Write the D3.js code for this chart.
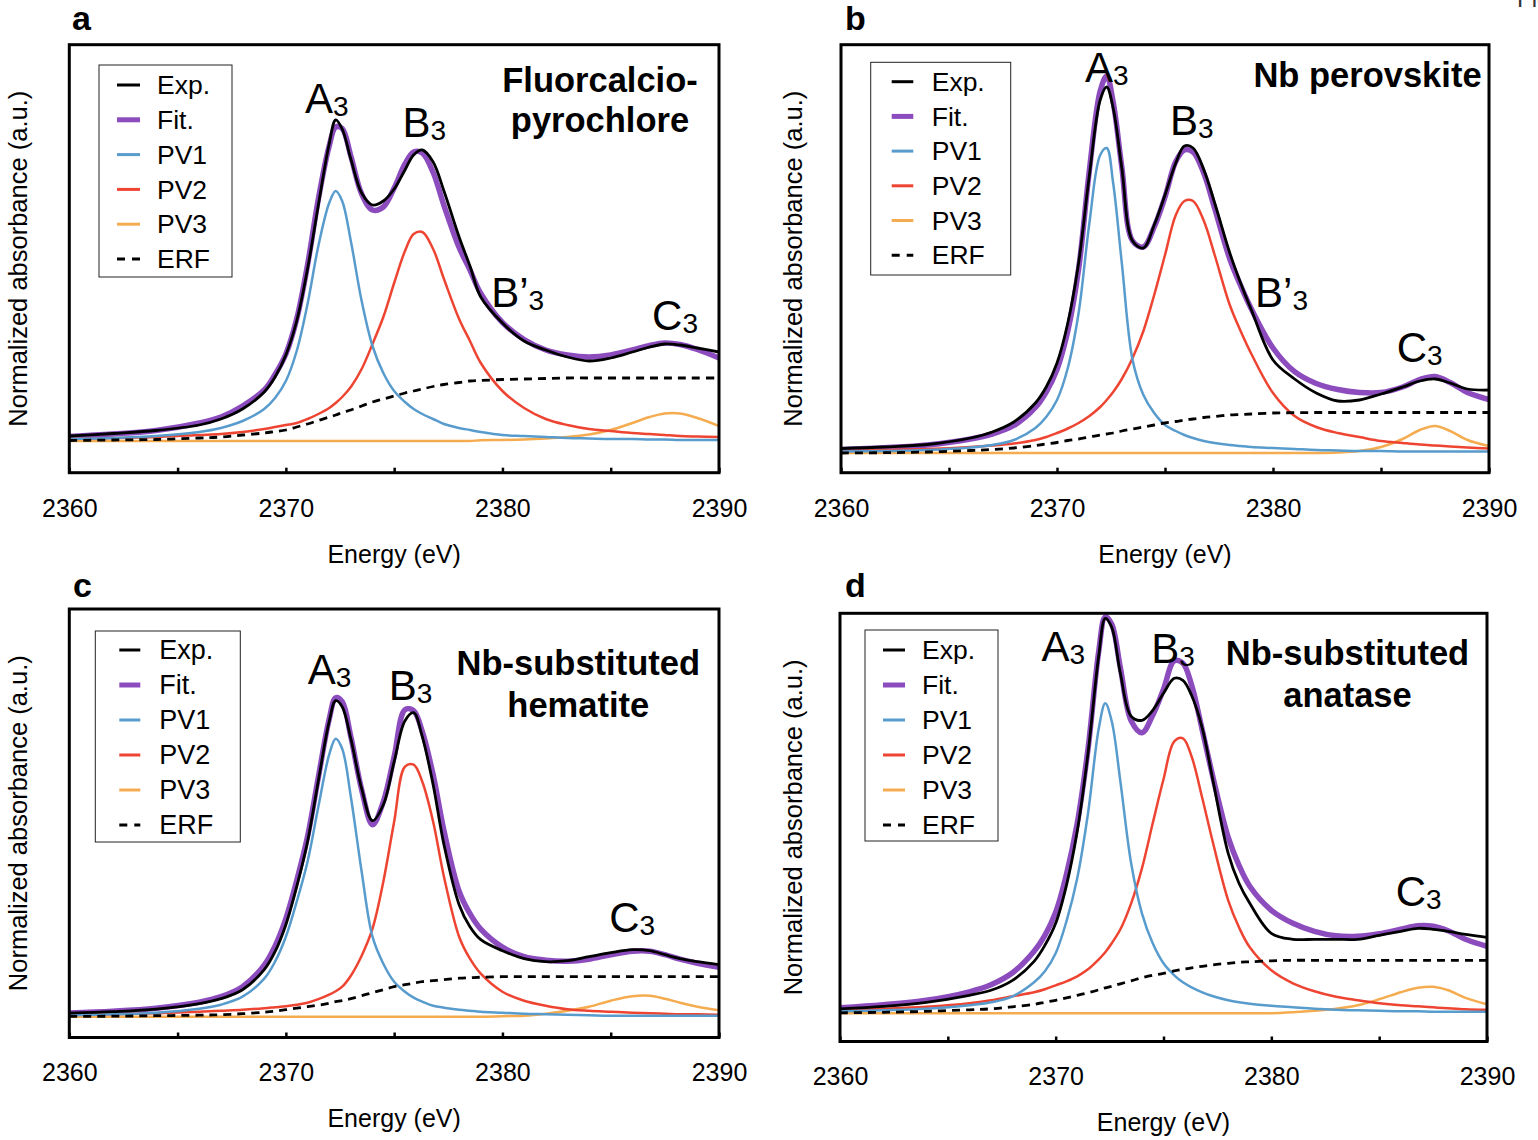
<!DOCTYPE html>
<html>
<head>
<meta charset="utf-8">
<script src="https://cdn.jsdelivr.net/npm/d3@7"></script>
<style>
  body { margin: 0; background: #fff; }
  svg text { font-family: "Liberation Sans", Arial, Helvetica, sans-serif; }
</style>
</head>
<body>
<svg id="chart" width="1538" height="1140"></svg>
<script>
// energy grid (eV), shared by the four panels
const energy = [
  2360, 2362, 2364, 2366, 2367, 2368, 2369, 2369.5, 2370, 2370.5,
  2371, 2371.5, 2372, 2372.3, 2372.6, 2373, 2373.5, 2374, 2374.5, 2375,
  2375.5, 2375.9, 2376.3, 2376.8, 2377.3, 2378, 2378.5, 2379, 2380, 2381,
  2382, 2383, 2384, 2385, 2386, 2386.8, 2387.5, 2388.2, 2389, 2390
];

// a - fluorcalcio-pyrochlore (normalized absorbance, a.u.)
const expA = [0.05, 0.075, 0.105, 0.16, 0.22, 0.32, 0.49, 0.64, 0.86, 1.20,
  1.72, 2.36, 2.97, 3.21, 3.12, 2.82, 2.48, 2.36, 2.40, 2.52,
  2.71, 2.86, 2.91, 2.79, 2.50, 2.04, 1.75, 1.44, 1.18, 1.00,
  0.91, 0.84, 0.80, 0.83, 0.89, 0.94, 0.97, 0.96, 0.93, 0.89];
const fitA = [0.045, 0.07, 0.105, 0.18, 0.24, 0.35, 0.51, 0.665, 0.87, 1.22,
  1.76, 2.42, 2.95, 3.14, 3.125, 2.85, 2.47, 2.31, 2.34, 2.53,
  2.77, 2.89, 2.88, 2.685, 2.355, 1.935, 1.71, 1.475, 1.185, 1.015,
  0.91, 0.86, 0.84, 0.86, 0.91, 0.955, 0.98, 0.965, 0.915, 0.83];
const pv1A = [0.02, 0.03, 0.05, 0.09, 0.13, 0.20, 0.32, 0.43, 0.60, 0.90,
  1.37, 1.95, 2.38, 2.50, 2.40, 2.00, 1.40, 0.95, 0.68, 0.50,
  0.39, 0.32, 0.27, 0.22, 0.17, 0.13, 0.11, 0.09, 0.06, 0.05,
  0.04, 0.03, 0.025, 0.02, 0.02, 0.015, 0.015, 0.01, 0.01, 0.01];
const pv2A = [0.02, 0.03, 0.04, 0.06, 0.07, 0.09, 0.12, 0.14, 0.16, 0.18,
  0.22, 0.27, 0.33, 0.38, 0.44, 0.54, 0.72, 0.97, 1.24, 1.58,
  1.90, 2.07, 2.09, 1.92, 1.62, 1.22, 1.00, 0.78, 0.50, 0.33,
  0.22, 0.16, 0.12, 0.10, 0.08, 0.07, 0.06, 0.05, 0.045, 0.04];
const pv3A = [0, 0, 0, 0, 0, 0, 0, 0, 0, 0,
  0, 0, 0, 0, 0, 0, 0, 0, 0, 0,
  0, 0, 0, 0, 0, 0, 0, 0.008, 0.01, 0.015,
  0.025, 0.04, 0.065, 0.11, 0.18, 0.24, 0.275, 0.275, 0.23, 0.15];
const erfA = [0.005, 0.01, 0.015, 0.03, 0.04, 0.06, 0.08, 0.095, 0.11, 0.14,
  0.17, 0.205, 0.24, 0.26, 0.285, 0.31, 0.35, 0.39, 0.42, 0.45,
  0.48, 0.50, 0.52, 0.545, 0.565, 0.585, 0.60, 0.605, 0.615, 0.62,
  0.625, 0.63, 0.63, 0.63, 0.63, 0.63, 0.63, 0.63, 0.63, 0.63];

// b - Nb perovskite
const expB = [0.045, 0.06, 0.085, 0.15, 0.21, 0.31, 0.50, 0.66, 0.90, 1.30,
  1.90, 2.78, 3.53, 3.66, 3.45, 2.85, 2.12, 2.05, 2.28, 2.58,
  2.90, 3.07, 3.05, 2.83, 2.50, 2.00, 1.70, 1.43, 0.93, 0.74,
  0.60, 0.52, 0.53, 0.59, 0.66, 0.72, 0.74, 0.70, 0.64, 0.63];
const fitB = [0.035, 0.053, 0.08, 0.14, 0.19, 0.275, 0.455, 0.61, 0.835, 1.22,
  1.84, 2.83, 3.62, 3.77, 3.51, 2.86, 2.12, 2.06, 2.26, 2.56,
  2.915, 3.03, 3.01, 2.795, 2.445, 1.94, 1.675, 1.44, 1.05, 0.813,
  0.695, 0.635, 0.605, 0.605, 0.66, 0.735, 0.765, 0.705, 0.605, 0.535];
const pv1B = [0.015, 0.02, 0.03, 0.055, 0.08, 0.13, 0.25, 0.36, 0.53, 0.85,
  1.40, 2.30, 2.98, 3.05, 2.70, 1.90, 0.93, 0.58, 0.40, 0.28,
  0.22, 0.18, 0.15, 0.12, 0.10, 0.08, 0.07, 0.06, 0.05, 0.04,
  0.03, 0.025, 0.02, 0.02, 0.015, 0.015, 0.015, 0.015, 0.015, 0.015];
const pv2B = [0.02, 0.03, 0.04, 0.06, 0.075, 0.095, 0.13, 0.16, 0.20, 0.245,
  0.30, 0.37, 0.46, 0.53, 0.61, 0.74, 0.95, 1.22, 1.58, 1.98,
  2.38, 2.52, 2.52, 2.32, 1.98, 1.48, 1.22, 0.99, 0.60, 0.37,
  0.26, 0.20, 0.16, 0.12, 0.10, 0.085, 0.075, 0.065, 0.055, 0.045];
const pv3B = [0, 0, 0, 0, 0, 0, 0, 0, 0, 0,
  0, 0, 0, 0, 0, 0, 0, 0, 0, 0,
  0, 0, 0, 0, 0, 0, 0, 0, 0, 0,
  0, 0.005, 0.02, 0.06, 0.14, 0.23, 0.27, 0.22, 0.13, 0.07];
const erfB = [0, 0.003, 0.01, 0.025, 0.035, 0.05, 0.075, 0.09, 0.105, 0.125,
  0.14, 0.16, 0.18, 0.19, 0.20, 0.22, 0.24, 0.26, 0.28, 0.30,
  0.315, 0.33, 0.34, 0.355, 0.365, 0.38, 0.385, 0.39, 0.40, 0.403,
  0.405, 0.405, 0.405, 0.405, 0.405, 0.405, 0.405, 0.405, 0.405, 0.405];

// c - Nb-substituted hematite
const expC = [0.035, 0.05, 0.075, 0.13, 0.18, 0.27, 0.47, 0.65, 0.92, 1.30,
  1.75, 2.36, 2.95, 3.16, 3.10, 2.78, 2.28, 1.96, 2.12, 2.55,
  2.96, 3.04, 2.80, 2.32, 1.72, 1.12, 0.90, 0.77, 0.66, 0.58,
  0.55, 0.56, 0.60, 0.64, 0.67, 0.66, 0.62, 0.58, 0.55, 0.52];
const fitC = [0.038, 0.055, 0.085, 0.145, 0.20, 0.30, 0.515, 0.705, 0.98, 1.36,
  1.80, 2.395, 2.975, 3.19, 3.15, 2.80, 2.27, 1.92, 2.15, 2.60,
  3.07, 3.06, 2.85, 2.42, 1.86, 1.255, 1.03, 0.875, 0.695, 0.60,
  0.565, 0.555, 0.575, 0.62, 0.655, 0.655, 0.62, 0.575, 0.535, 0.495];
const pv1C = [0.015, 0.025, 0.04, 0.08, 0.12, 0.20, 0.38, 0.55, 0.80, 1.15,
  1.55, 2.10, 2.62, 2.78, 2.68, 2.20, 1.45, 0.80, 0.53, 0.35,
  0.25, 0.19, 0.15, 0.11, 0.09, 0.07, 0.06, 0.05, 0.04, 0.03,
  0.025, 0.02, 0.015, 0.01, 0.01, 0.01, 0.01, 0.01, 0.01, 0.01];
const pv2C = [0.02, 0.025, 0.035, 0.05, 0.06, 0.07, 0.085, 0.095, 0.105, 0.12,
  0.14, 0.175, 0.22, 0.255, 0.30, 0.41, 0.61, 0.88, 1.35, 1.95,
  2.50, 2.52, 2.35, 1.95, 1.40, 0.80, 0.58, 0.43, 0.25, 0.16,
  0.11, 0.075, 0.06, 0.05, 0.04, 0.035, 0.03, 0.025, 0.025, 0.02];
const pv3C = [0, 0, 0, 0, 0, 0, 0, 0, 0, 0,
  0, 0, 0, 0, 0, 0, 0, 0, 0, 0,
  0, 0, 0, 0, 0, 0, 0, 0, 0.005, 0.01,
  0.03, 0.06, 0.10, 0.16, 0.205, 0.21, 0.18, 0.14, 0.10, 0.065];
const erfC = [0.003, 0.005, 0.01, 0.015, 0.02, 0.03, 0.045, 0.055, 0.07, 0.085,
  0.10, 0.115, 0.135, 0.15, 0.16, 0.18, 0.21, 0.24, 0.27, 0.30,
  0.32, 0.335, 0.35, 0.36, 0.37, 0.385, 0.39, 0.395, 0.40, 0.40,
  0.40, 0.40, 0.40, 0.40, 0.40, 0.40, 0.40, 0.40, 0.40, 0.40];

// d - Nb-substituted anatase
const expD = [0.045, 0.07, 0.11, 0.18, 0.23, 0.33, 0.52, 0.68, 0.90, 1.28,
  1.82, 2.60, 3.58, 3.95, 3.86, 3.40, 2.97, 2.93, 3.03, 3.20,
  3.35, 3.33, 3.18, 2.85, 2.32, 1.60, 1.30, 1.10, 0.80, 0.74,
  0.74, 0.74, 0.74, 0.78, 0.82, 0.85, 0.84, 0.82, 0.79, 0.76];
const fitD = [0.055, 0.085, 0.13, 0.215, 0.285, 0.405, 0.62, 0.78, 1.01, 1.39,
  1.90, 2.645, 3.625, 3.965, 3.89, 3.455, 2.925, 2.805, 2.98, 3.24,
  3.525, 3.50, 3.285, 2.83, 2.355, 1.76, 1.48, 1.27, 1.03, 0.90,
  0.82, 0.775, 0.77, 0.795, 0.84, 0.875, 0.87, 0.825, 0.74, 0.67];
const pv1D = [0.02, 0.03, 0.045, 0.08, 0.11, 0.17, 0.31, 0.42, 0.60, 0.92,
  1.35, 2.00, 2.85, 3.10, 2.92, 2.32, 1.50, 1.00, 0.70, 0.50,
  0.38, 0.31, 0.26, 0.21, 0.17, 0.13, 0.11, 0.095, 0.075, 0.06,
  0.045, 0.035, 0.03, 0.025, 0.02, 0.02, 0.015, 0.015, 0.015, 0.015];
const pv2D = [0.03, 0.045, 0.065, 0.10, 0.13, 0.17, 0.21, 0.24, 0.28, 0.32,
  0.37, 0.44, 0.54, 0.61, 0.70, 0.84, 1.10, 1.45, 1.90, 2.34,
  2.72, 2.75, 2.57, 2.15, 1.70, 1.13, 0.86, 0.66, 0.43, 0.30,
  0.22, 0.165, 0.13, 0.10, 0.08, 0.07, 0.06, 0.05, 0.04, 0.035];
const pv3D = [0, 0, 0, 0, 0, 0, 0, 0, 0, 0,
  0, 0, 0, 0, 0, 0, 0, 0, 0, 0,
  0, 0, 0, 0, 0, 0, 0, 0, 0, 0.01,
  0.025, 0.045, 0.08, 0.14, 0.21, 0.255, 0.265, 0.23, 0.155, 0.09];
const erfD = [0.005, 0.01, 0.02, 0.035, 0.045, 0.065, 0.09, 0.11, 0.13, 0.155,
  0.18, 0.205, 0.235, 0.255, 0.27, 0.295, 0.325, 0.355, 0.38, 0.40,
  0.425, 0.44, 0.455, 0.47, 0.485, 0.50, 0.51, 0.515, 0.525, 0.53,
  0.53, 0.53, 0.53, 0.53, 0.53, 0.53, 0.53, 0.53, 0.53, 0.53];

const seriesNames = ["Exp.", "Fit.", "PV1", "PV2", "PV3", "ERF"];
const tickLabels = [2360, 2370, 2380, 2390];
const minorTicks = [2365, 2375, 2385];

const colors = ["#000000", "#8c4cbe", "#589bcd", "#ee4432", "#f5ac50", "#000000"];
const widths = [2.8, 5.5, 2.5, 2.5, 2.5, 2.8];
const drawOrder = [1, 4, 3, 2, 5, 0]; // fit underneath, exp on top

const panels = [
  {
    letter: "a", letterPos: [72, 30],
    series: [expA, fitA, pv1A, pv2A, pv3A, erfA],
    frame: { x: 69.3, y: 44.7, w: 649.7, h: 428 }, yDomain: [-0.317, 3.963],
    title: ["Fluorcalcio-", "pyrochlore"], titleX: 530.7, titleY: [47, 87],
    legend: { x: 29.7, y: 20.3, w: 133, h: 212, row0: 20, gap: 34.8, l0: 18, l1: 41, tx: 58, fs: 26.5 },
    peaks: [["A", "", 2370.88, 3.28], ["B", "", 2375.39, 3.04], ["B", "’", 2379.48, 1.34], ["C", "", 2386.91, 1.11]],
    tickY: 36, xlabY: 82, ylabX: -51.3
  },
  {
    letter: "b", letterPos: [845, 30],
    series: [expB, fitB, pv1B, pv2B, pv3B, erfB],
    frame: { x: 841, y: 44.7, w: 648, h: 428 }, yDomain: [-0.197, 4.083],
    title: ["Nb perovskite"], titleX: 526.5, titleY: [42.6],
    legend: { x: 29.7, y: 17.6, w: 140, h: 212.7, row0: 19.4, gap: 34.7, l0: 21, l1: 42.6, tx: 61, fs: 26.5 },
    peaks: [["A", "", 2371.30, 3.71], ["B", "", 2375.23, 3.18], ["B", "’", 2379.17, 1.46], ["C", "", 2385.73, 0.91]],
    tickY: 36, xlabY: 82, ylabX: -48
  },
  {
    letter: "c", letterPos: [73, 597],
    series: [expC, fitC, pv1C, pv2C, pv3C, erfC],
    frame: { x: 69.3, y: 609, w: 649.7, h: 428.5 }, yDomain: [-0.208, 4.077],
    title: ["Nb-substituted", "hematite"], titleX: 509, titleY: [66, 107.7],
    legend: { x: 26, y: 22, w: 145, h: 211, row0: 19, gap: 35, l0: 24, l1: 45, tx: 64, fs: 27 },
    peaks: [["A", "", 2371.01, 3.33], ["B", "", 2374.75, 3.17], ["C", "", 2384.93, 0.85]],
    tickY: 34.5, xlabY: 80.5, ylabX: -51.3
  },
  {
    letter: "d", letterPos: [845, 597],
    series: [expD, fitD, pv1D, pv2D, pv3D, erfD],
    frame: { x: 840, y: 613.3, w: 647, h: 428.2 }, yDomain: [-0.282, 4.0],
    title: ["Nb-substituted", "anatase"], titleX: 507.5, titleY: [51.7, 93.4],
    legend: { x: 25, y: 16.7, w: 133, h: 211, row0: 20, gap: 35, l0: 18, l1: 40, tx: 57, fs: 26.5 },
    peaks: [["A", "", 2369.34, 3.52], ["B", "", 2374.43, 3.50], ["C", "", 2385.77, 1.07]],
    tickY: 34.5, xlabY: 80.5, ylabX: -47
  }
];

const svg = d3.select("#chart");
svg.append("rect").attr("width", 1538).attr("height", 1140).attr("fill", "#fff");

// clipped figure label in the top right corner
svg.append("text").attr("x", 1517).attr("y", 7).attr("font-size", 24).attr("fill", "#333").text("Fig. 4");

panels.forEach((p, pi) => {
  const f = p.frame;
  const x = d3.scaleLinear().domain([2360, 2390]).range([0, f.w]);
  const y = d3.scaleLinear().domain(p.yDomain).range([f.h, 0]);

  svg.append("text")
    .attr("x", p.letterPos[0]).attr("y", p.letterPos[1])
    .attr("font-size", 34).attr("font-weight", "bold")
    .text(p.letter);

  const g = svg.append("g").attr("transform", `translate(${f.x},${f.y})`);

  g.append("clipPath").attr("id", "clip" + pi)
    .append("rect").attr("width", f.w).attr("height", f.h);

  const line = d3.line()
    .x((d, i) => x(energy[i]))
    .y(d => y(d))
    .curve(d3.curveCatmullRom.alpha(0.5));

  const plot = g.append("g").attr("clip-path", `url(#clip${pi})`);
  drawOrder.forEach(k => {
    plot.append("path")
      .datum(p.series[k])
      .attr("d", line)
      .attr("fill", "none")
      .attr("stroke", colors[k])
      .attr("stroke-width", widths[k])
      .attr("stroke-linejoin", "round")
      .attr("stroke-dasharray", k === 5 ? "8,6" : null);
  });

  // axis: inward ticks every 5 eV, labels every 10 eV
  const axis = d3.axisBottom(x)
    .tickValues(tickLabels.concat(minorTicks).sort())
    .tickSize(-5)
    .tickFormat(d => (tickLabels.includes(d) ? String(d) : ""));
  const ax = g.append("g").attr("transform", `translate(0,${f.h})`).call(axis);
  ax.select(".domain").remove();
  ax.selectAll(".tick line").attr("stroke", "#000").attr("stroke-width", 2.5);
  ax.selectAll(".tick text")
    .attr("y", p.tickY).attr("dy", "0.35em")
    .attr("font-size", 25).attr("fill", "#000");

  g.append("rect")
    .attr("width", f.w).attr("height", f.h)
    .attr("fill", "none").attr("stroke", "#000").attr("stroke-width", 3);

  g.append("text")
    .attr("x", f.w / 2).attr("y", f.h + p.xlabY).attr("dy", "0.35em")
    .attr("text-anchor", "middle").attr("font-size", 25)
    .text("Energy (eV)");

  g.append("text")
    .attr("transform", `translate(${p.ylabX},${f.h / 2}) rotate(-90)`)
    .attr("dy", "0.35em")
    .attr("text-anchor", "middle").attr("font-size", 25.5)
    .text("Normalized absorbance (a.u.)");

  // sample title
  p.title.forEach((t, i) => {
    g.append("text")
      .attr("x", p.titleX).attr("y", p.titleY[i])
      .attr("text-anchor", "middle")
      .attr("font-size", 34.5).attr("font-weight", "bold")
      .text(t);
  });

  // peak labels
  p.peaks.forEach(([main, prime, e, v]) => {
    const t = g.append("text")
      .attr("x", x(e)).attr("y", y(v))
      .attr("font-size", 42);
    t.append("tspan").text(main + prime);
    t.append("tspan").attr("font-size", 28).attr("dy", 3).text("3");
  });

  // legend
  const L = p.legend;
  const lg = g.append("g").attr("transform", `translate(${L.x},${L.y})`);
  lg.append("rect")
    .attr("width", L.w).attr("height", L.h)
    .attr("fill", "#fff").attr("stroke", "#222").attr("stroke-width", 1);
  seriesNames.forEach((name, k) => {
    const ry = L.row0 + k * L.gap;
    lg.append("line")
      .attr("x1", L.l0).attr("x2", L.l1).attr("y1", ry).attr("y2", ry)
      .attr("stroke", colors[k])
      .attr("stroke-width", k === 1 ? 5 : 3)
      .attr("stroke-dasharray", k === 5 ? "8,7" : null);
    lg.append("text")
      .attr("x", L.tx).attr("y", ry).attr("dy", "0.35em")
      .attr("font-size", L.fs)
      .text(name);
  });
});
</script>
</body>
</html>
